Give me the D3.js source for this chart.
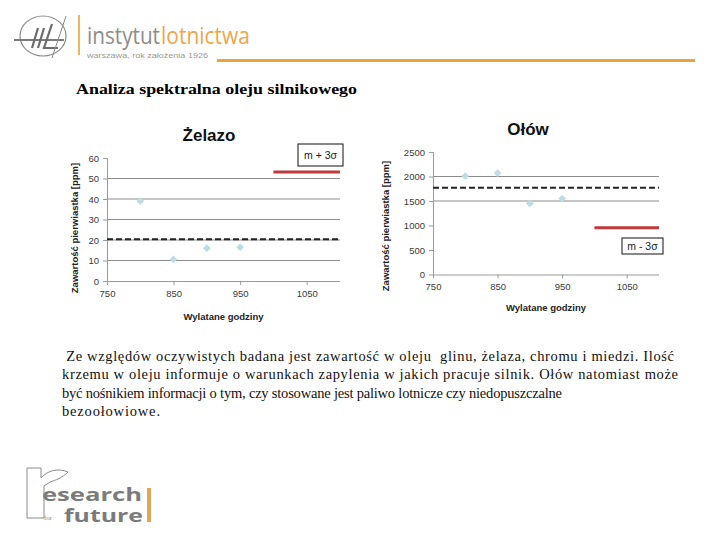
<!DOCTYPE html>
<html>
<head>
<meta charset="utf-8">
<script src="https://cdn.jsdelivr.net/npm/d3@7"></script>
<style>
  body { margin: 0; background: #fff; }
  svg { display: block; }
</style>
</head>
<body>
<div id="chart-area"></div>
<script>
// data
var hours = [800, 850, 900, 950];
var ironValues = [39, 10.5, 16, 16.5];
var leadValues = [2010, 2070, 1450, 1550];
var ironMean = 20.4, ironLimit = 53.2;   // m + 3σ
var leadMean = 1770, leadLimit = 955;    // m - 3σ
var limitSpan = [1000, 1100];
var xTicks = [750, 850, 950, 1050];
var ironTicks = [0, 10, 20, 30, 40, 50, 60];
var leadTicks = [0, 500, 1000, 1500, 2000, 2500];
var ironGrid = [10, 20, 30, 40, 50];
var leadGrid = [1500, 2000];
var paragraph = [
    " Ze względów oczywistych badana jest zawartość w oleju  glinu, żelaza, chromu i miedzi. Ilość",
    "krzemu w oleju informuje o warunkach zapylenia w jakich pracuje silnik. Ołów natomiast może",
    "być nośnikiem informacji o tym, czy stosowane jest paliwo lotnicze czy niedopuszczalne",
    "bezoołowiowe."
];

var width = 720, height = 540;
var svg = d3.select("#chart-area").append("svg")
    .attr("width", width)
    .attr("height", height);

var sans = "Arial, 'Liberation Sans', sans-serif";
var serif = "'Times New Roman', 'Liberation Serif', serif";

// ---- header logo ----
var logo = svg.append("g").attr("class", "logo");
logo.append("ellipse")
    .attr("cx", 43).attr("cy", 36).attr("rx", 23).attr("ry", 20)
    .attr("fill", "none").attr("stroke", "#8a8a8a").attr("stroke-width", 1.2);
logo.append("line")
    .attr("x1", 14).attr("y1", 40).attr("x2", 64).attr("y2", 40)
    .attr("stroke", "#7a7a7a").attr("stroke-width", 2);
// stylised IL mark drawn as strokes
logo.append("path")
    .attr("d", "M38,28 L32,48 M44,28 L38,48 M52,24 L44,48 L58,48")
    .attr("fill", "none").attr("stroke", "#6d6d6d").attr("stroke-width", 2.2);
logo.append("line")
    .attr("x1", 52).attr("y1", 58).attr("x2", 66).attr("y2", 16)
    .attr("stroke", "#8a8a8a").attr("stroke-width", 1);
logo.append("rect")
    .attr("x", 78).attr("y", 15).attr("width", 2).attr("height", 40)
    .attr("fill", "#f0b460");
logo.append("text")
    .attr("x", 87).attr("y", 44)
    .style("font-family", "'Open Sans', sans-serif").style("font-size", "23px")
    .attr("fill", "#8c8c8c")
    .attr("textLength", 73).attr("lengthAdjust", "spacingAndGlyphs")
    .text("instytut");
logo.append("text")
    .attr("x", 161).attr("y", 44)
    .style("font-family", "'Open Sans', sans-serif").style("font-size", "23px")
    .attr("fill", "#eea64a")
    .attr("textLength", 89).attr("lengthAdjust", "spacingAndGlyphs")
    .text("lotnictwa");
logo.append("text")
    .attr("x", 87).attr("y", 58)
    .style("font-family", sans).style("font-size", "8px")
    .attr("fill", "#999")
    .attr("textLength", 121).attr("lengthAdjust", "spacingAndGlyphs")
    .text("warszawa, rok założenia 1926");
svg.append("rect")
    .attr("x", 217).attr("y", 59).attr("width", 478).attr("height", 3)
    .attr("fill", "#eba33a");

// ---- slide heading ----
svg.append("text")
    .attr("x", 76).attr("y", 94)
    .style("font-family", serif).style("font-weight", "bold").style("font-size", "15px")
    .attr("textLength", 281).attr("lengthAdjust", "spacingAndGlyphs")
    .text("Analiza spektralna oleju silnikowego");

// ---- panels ----
function drawPanel(cfg) {
    var g = svg.append("g");
    var x = d3.scaleLinear().domain([750, 1100]).range(cfg.xRange);
    var y = d3.scaleLinear().domain(cfg.yDomain).range(cfg.yRange);

    // grid lines
    g.selectAll(".grid")
        .data(cfg.grid)
        .enter().append("line")
        .attr("x1", x(750)).attr("x2", x(1100))
        .attr("y1", function(d) { return y(d); })
        .attr("y2", function(d) { return y(d); })
        .attr("stroke", "#8c8c8c").attr("stroke-width", 1);

    var yAxis = d3.axisLeft(y).tickValues(cfg.yTicks).tickFormat(d3.format("d")).tickSize(4).tickPadding(4);
    var xAxis = d3.axisBottom(x).tickValues(xTicks).tickFormat(d3.format("d")).tickSize(4).tickPadding(5);

    var ya = g.append("g").attr("transform", "translate(" + x(750) + ",0)").call(yAxis);
    var xa = g.append("g").attr("transform", "translate(0," + y(0) + ")").call(xAxis);
    [ya, xa].forEach(function(a) {
        a.select(".domain").attr("stroke", "#9a9a9a");
        a.selectAll(".tick line").attr("stroke", "#9a9a9a");
        a.selectAll(".tick text")
            .style("font-family", sans).style("font-size", "9.5px").attr("fill", "#3a3a3a");
    });
    xa.select(".domain").attr("d", "M" + x(750) + ",0.5H" + x(1100));
    ya.select(".domain").attr("d", "M0.5," + y(0) + "V" + y(cfg.yDomain[1]));

    // mean line
    g.append("line")
        .attr("x1", x(750)).attr("x2", x(1100))
        .attr("y1", y(cfg.mean)).attr("y2", y(cfg.mean))
        .attr("stroke", "#222").attr("stroke-width", 2)
        .attr("stroke-dasharray", "6,3");

    // limit line
    g.append("line")
        .attr("x1", x(limitSpan[0])).attr("x2", x(limitSpan[1]))
        .attr("y1", y(cfg.limit)).attr("y2", y(cfg.limit))
        .attr("stroke", "#c0393b").attr("stroke-width", 3);

    // points (rotated squares)
    g.selectAll(".pt")
        .data(cfg.values)
        .enter().append("path")
        .attr("d", d3.symbol().type(d3.symbolSquare).size(30))
        .attr("transform", function(d, i) {
            return "translate(" + x(hours[i]) + "," + y(d) + ") rotate(45)";
        })
        .attr("fill", "#bcdde4");

    // limit label box
    g.append("rect")
        .attr("x", cfg.box[0]).attr("y", cfg.box[1])
        .attr("width", cfg.box[2]).attr("height", cfg.box[3])
        .attr("fill", "#fff").attr("stroke", "#111").attr("stroke-width", 1);
    g.append("text")
        .attr("x", cfg.box[0] + cfg.box[2] / 2).attr("y", cfg.box[1] + cfg.box[3] / 2 + 4)
        .attr("text-anchor", "middle")
        .style("font-family", sans).style("font-size", "10.5px").attr("fill", "#222")
        .text(cfg.boxLabel);

    // titles
    g.append("text")
        .attr("x", cfg.titlePos[0]).attr("y", cfg.titlePos[1])
        .attr("text-anchor", "middle")
        .style("font-family", sans).style("font-weight", "bold").style("font-size", "17px")
        .attr("fill", "#111")
        .text(cfg.title);
    g.append("text")
        .attr("x", (cfg.xRange[0] + cfg.xRange[1]) / 2).attr("y", cfg.xTitleY)
        .attr("text-anchor", "middle")
        .style("font-family", sans).style("font-weight", "bold").style("font-size", "9.5px")
        .attr("fill", "#222")
        .text("Wylatane godziny");
    g.append("text")
        .attr("transform", "translate(" + cfg.yTitle[0] + "," + cfg.yTitle[1] + ") rotate(-90)")
        .attr("text-anchor", "middle")
        .style("font-family", sans).style("font-weight", "bold").style("font-size", "9.5px")
        .attr("fill", "#222")
        .text("Zawartość pierwiastka [ppm]");
}

drawPanel({
    title: "Żelazo", titlePos: [209, 141],
    values: ironValues, mean: ironMean, limit: ironLimit,
    yDomain: [0, 60], yTicks: ironTicks, grid: ironGrid,
    xRange: [107, 340], yRange: [281, 158],
    box: [298, 144, 45, 22], boxLabel: "m + 3σ",
    xTitleY: 320, yTitle: [78, 228]
});

drawPanel({
    title: "Ołów", titlePos: [528, 135],
    values: leadValues, mean: leadMean, limit: leadLimit,
    yDomain: [0, 2500], yTicks: leadTicks, grid: leadGrid,
    xRange: [433, 659], yRange: [274.5, 152],
    box: [622, 238, 41, 16], boxLabel: "m - 3σ",
    xTitleY: 311, yTitle: [389, 226]
});

// ---- paragraph ----
var lineLengths = [612, 616, 500, 98];
var lineX = [62, 62, 62, 62];
svg.selectAll(".para")
    .data(paragraph)
    .enter().append("text")
    .attr("x", function(d, i) { return lineX[i]; })
    .attr("y", function(d, i) { return 361 + i * 18.4; })
    .attr("xml:space", "preserve")
    .style("white-space", "pre")
    .style("font-family", serif).style("font-size", "14.5px").attr("fill", "#111")
    .attr("textLength", function(d, i) { return lineLengths[i]; })
    .attr("lengthAdjust", "spacing")
    .text(function(d) { return d; });

// ---- footer logo ----
var foot = svg.append("g");
foot.append("path")
    .attr("d", "M27,518 V468 H41 V478 C48,470 58,468 68,472 C62,478 56,480 50,482 L44,486 V518 Z")
    .attr("fill", "none").attr("stroke", "#8a8a8a").attr("stroke-width", 1);
foot.append("text")
    .attr("x", 42).attr("y", 501)
    .style("font-family", "'Open Sans', sans-serif").style("font-weight", "bold").style("font-size", "17px")
    .attr("fill", "#7b7b7b")
    .attr("textLength", 100).attr("lengthAdjust", "spacingAndGlyphs")
    .text("esearch");
foot.append("text")
    .attr("x", 64).attr("y", 522)
    .style("font-family", "'Open Sans', sans-serif").style("font-weight", "bold").style("font-size", "17px")
    .attr("fill", "#7b7b7b")
    .attr("textLength", 79).attr("lengthAdjust", "spacingAndGlyphs")
    .text("future");
foot.append("text")
    .attr("x", 44).attr("y", 520)
    .style("font-family", serif).style("font-size", "7px")
    .attr("fill", "#888")
    .text("for");
foot.append("rect")
    .attr("x", 147).attr("y", 488).attr("width", 4).attr("height", 34)
    .attr("fill", "#e2a55a");
</script>
</body>
</html>
